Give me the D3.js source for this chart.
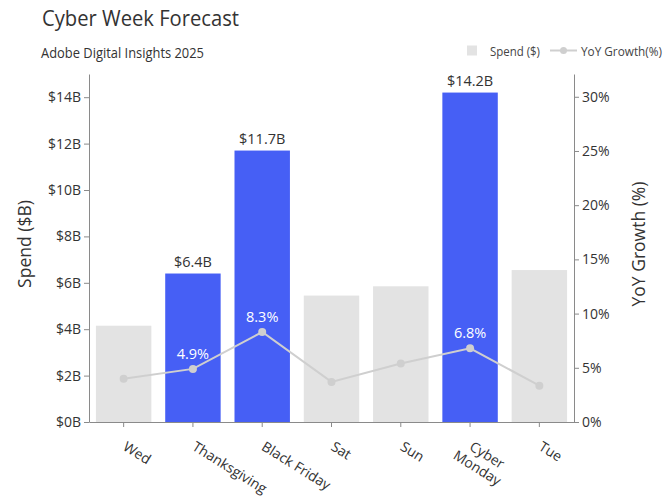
<!DOCTYPE html>
<html><head><meta charset="utf-8">
<script src="https://cdn.jsdelivr.net/npm/d3@7"></script>
<style>
body{margin:0;background:#fff;}
svg{display:block;font-family:"Open Sans","Noto Sans",sans-serif;}
</style></head>
<body><svg id="c" width="665" height="498"></svg>
<script>
const categories = ["Wed","Thanksgiving","Black Friday","Sat","Sun","Cyber Monday","Tue"];
const spend = [4.15, 6.4, 11.7, 5.45, 5.85, 14.2, 6.55];
const yoy = [4.0, 4.9, 8.3, 3.7, 5.4, 6.8, 3.35];
const highlighted = ["Thanksgiving","Black Friday","Cyber Monday"];
const spendTicks = [0,2,4,6,8,10,12,14];
const yoyTicks = [0,5,10,15,20,25,30];

const svg = d3.select("#c");
const m = {l:89, r:574, t:74, b:422};
const x = d3.scaleBand().domain(categories).range([m.l, m.r]).paddingInner(0.2).paddingOuter(0.1);
const y = d3.scaleLinear().domain([0,15]).range([m.b, m.t]);
const y2 = d3.scaleLinear().domain([0,32.1]).range([m.b, m.t]);
const blue = "#465ff5", gray = "#e3e3e3", lineC = "#cfcfcf", axisC = "#8a8a8a", txt = "#333";

// title
svg.append("text").attr("x",42).attr("y",26).attr("font-size",21.5).attr("fill","#333")
  .attr("textLength",197).attr("lengthAdjust","spacingAndGlyphs").text("Cyber Week Forecast");
svg.append("text").attr("x",41).attr("y",57.5).attr("font-size",14.5).attr("fill","#333")
  .attr("textLength",163).attr("lengthAdjust","spacingAndGlyphs").text("Adobe Digital Insights 2025");

// legend
svg.append("rect").attr("x",467).attr("y",45.5).attr("width",10).attr("height",10).attr("fill",gray);
svg.append("text").attr("x",490).attr("y",56).attr("font-size",12).attr("fill","#444")
  .attr("textLength",50).attr("lengthAdjust","spacingAndGlyphs").text("Spend ($)");
svg.append("line").attr("x1",550).attr("x2",577).attr("y1",50.5).attr("y2",50.5).attr("stroke",lineC).attr("stroke-width",2);
svg.append("circle").attr("cx",563.5).attr("cy",50.5).attr("r",3.5).attr("fill",lineC);
svg.append("text").attr("x",581).attr("y",56).attr("font-size",12).attr("fill","#444")
  .attr("textLength",81).attr("lengthAdjust","spacingAndGlyphs").text("YoY Growth(%)");

// bars
svg.selectAll("rect.bar").data(categories).join("rect").attr("class","bar")
  .attr("x",d=>x(d)).attr("width",x.bandwidth())
  .attr("y",(d,i)=>y(spend[i])).attr("height",(d,i)=>y(0)-y(spend[i]))
  .attr("fill",d=>highlighted.includes(d)?blue:gray);

// bar labels
svg.selectAll("text.bl").data(categories.filter(d=>highlighted.includes(d))).join("text").attr("class","bl")
  .attr("x",d=>x(d)+x.bandwidth()/2).attr("y",d=>y(spend[categories.indexOf(d)])-7)
  .attr("text-anchor","middle").attr("font-size",14.5).attr("fill",txt)
  .text(d=>"$"+spend[categories.indexOf(d)].toFixed(1)+"B");

// line
const line = d3.line().x((d,i)=>x(categories[i])+x.bandwidth()/2).y(d=>y2(d));
svg.append("path").datum(yoy).attr("d",line).attr("fill","none").attr("stroke",lineC).attr("stroke-width",2);
svg.selectAll("circle.pt").data(yoy).join("circle").attr("class","pt")
  .attr("cx",(d,i)=>x(categories[i])+x.bandwidth()/2).attr("cy",d=>y2(d)).attr("r",4).attr("fill",lineC);
svg.selectAll("text.pl").data(categories.filter(d=>highlighted.includes(d))).join("text").attr("class","pl")
  .attr("x",d=>x(d)+x.bandwidth()/2).attr("y",d=>y2(yoy[categories.indexOf(d)])-10)
  .attr("text-anchor","middle").attr("font-size",14.5).attr("fill","#fff")
  .text(d=>yoy[categories.indexOf(d)].toFixed(1)+"%");

// axes
function styleAxis(g){
  g.selectAll(".domain").attr("stroke",axisC);
  g.selectAll(".tick line").attr("stroke",axisC);
  g.selectAll(".tick text").attr("fill",txt).attr("font-size",14).attr("font-family","'Open Sans','Noto Sans',sans-serif");
}
const gl = svg.append("g").attr("transform",`translate(${m.l},0)`)
  .call(d3.axisLeft(y).tickValues(spendTicks).tickSize(5).tickSizeOuter(0).tickFormat(d=>"$"+d+"B"));
styleAxis(gl);
const gr = svg.append("g").attr("transform",`translate(${m.r},0)`)
  .call(d3.axisRight(y2).tickValues(yoyTicks).tickSize(5).tickSizeOuter(0).tickFormat(d=>d+"%"));
styleAxis(gr);
const gb = svg.append("g").attr("transform",`translate(0,${m.b})`)
  .call(d3.axisBottom(x).tickSize(5).tickSizeOuter(0));
styleAxis(gb);
gb.selectAll(".tick text").each(function(d){
  const t = d3.select(this);
  t.text(null);
  const parts = d==="Cyber Monday" ? ["Cyber","Monday"] : [d];
  t.attr("text-anchor","start").attr("dy",null).attr("y",0).attr("x",0)
   .attr("transform","translate(1,23) rotate(32)");
  parts.forEach((p,i)=>{
    t.append("tspan").attr("x", i*-9).attr("dy", i===0?"0.35em":"1.15em").text(p);
  });
});

// axis titles
svg.append("text").attr("transform","translate(31,244) rotate(-90)").attr("text-anchor","middle")
  .attr("font-size",17.5).attr("fill",txt).text("Spend ($B)");
svg.append("text").attr("transform","translate(645,244) rotate(-90)").attr("text-anchor","middle")
  .attr("font-size",17.5).attr("fill",txt).text("YoY Growth (%)");
</script></body></html>
